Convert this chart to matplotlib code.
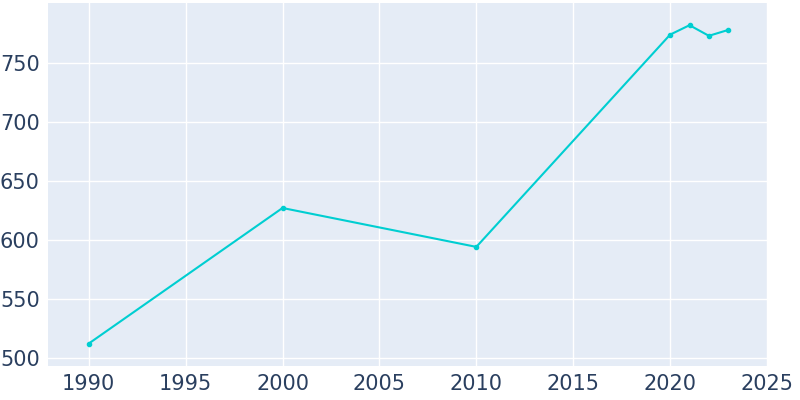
import matplotlib
matplotlib.use("Agg")
import matplotlib.pyplot as plt

years = [1990, 2000, 2010, 2020, 2021, 2022, 2023]
population = [512, 627, 594, 774, 782, 773, 778]

fig = plt.figure(figsize=(8, 4), dpi=100)
ax = fig.add_axes([0.06, 0.085, 0.9, 0.908])
ax.set_facecolor("#E5ECF6")
ax.plot(years, population, color="#00CED1", lw=1.5, marker="o", ms=3)
ax.set_xlim(1987.9, 2025.05)
ax.set_ylim(493, 801)
ax.set_xticks(range(1990, 2030, 5))
ax.set_yticks(range(500, 800, 50))
ax.grid(True, color="white", lw=1)
ax.set_axisbelow(True)
for s in ax.spines.values():
    s.set_visible(False)
ax.tick_params(length=0, labelsize=15, colors="#2A3F5F", pad=6)
fig.savefig("out.png")
